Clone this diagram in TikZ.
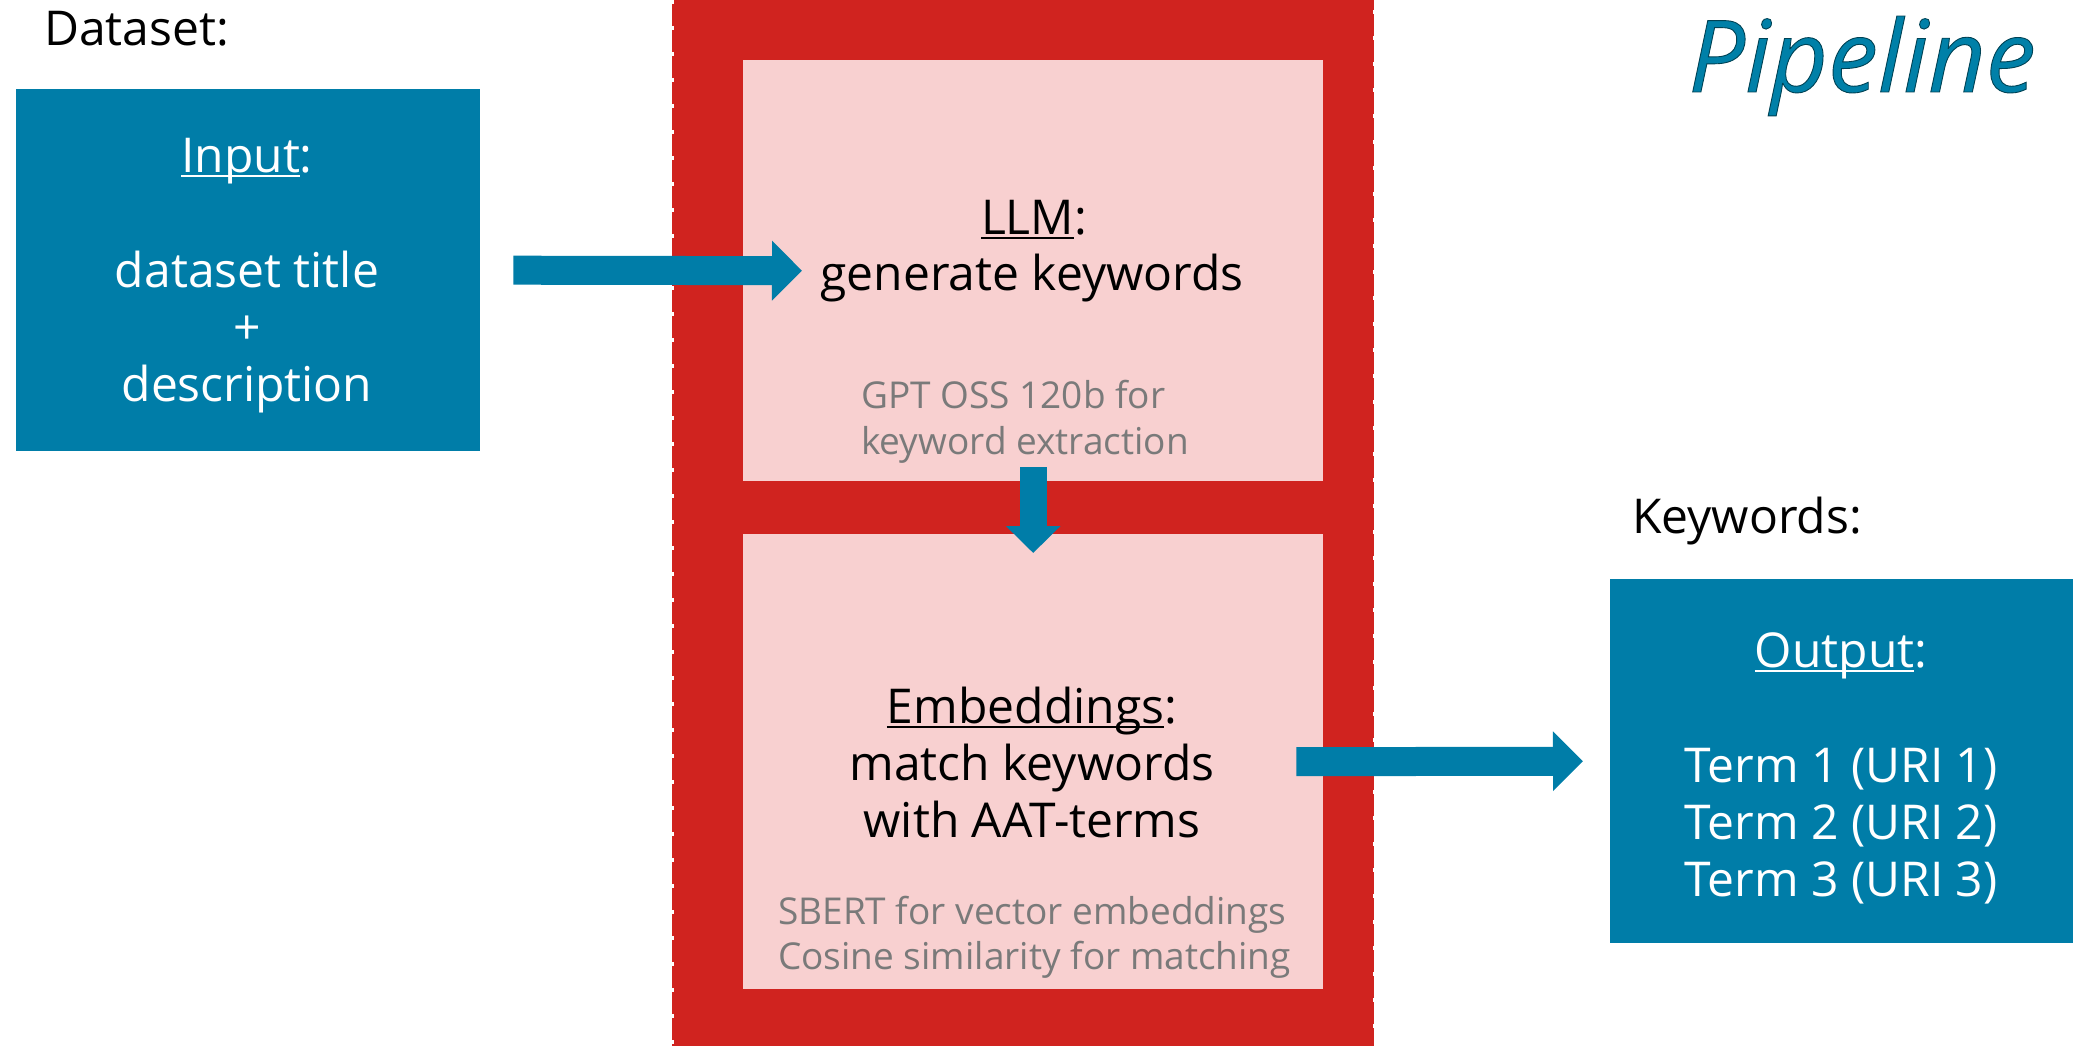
\documentclass[tikz,border=0pt]{standalone}
\usepackage{fontspec}
\setmainfont{Open Sans}
\usetikzlibrary{arrows.meta}
\definecolor{bandred}{HTML}{D0231F}
\definecolor{pinkbox}{HTML}{F8D0D0}
\definecolor{tealbox}{HTML}{007DA8}
\definecolor{graytxt}{HTML}{7A7A7A}
\definecolor{titleteal}{HTML}{0080A8}
\newcommand\myul[1]{\setbox0\hbox{#1}\rlap{\rule[-0.11em]{\wd0}{0.05em}}\box0}
\newcommand\outlinedtext[1]{\special{pdf:code q 2 Tr 0.9 w 0 0.26 0.33 RG}#1\special{pdf:code Q}}
\tikzset{
  tealrect/.style={fill=tealbox, draw=none, inner sep=0pt, anchor=north west},
  pinkrect/.style={fill=pinkbox, draw=none, inner sep=0pt, anchor=north west},
  bigtxt/.style={inner sep=0pt, anchor=base, font=\fontsize{48}{58}\selectfont},
  whitetxt/.style={bigtxt, text=white},
  smalltxt/.style={inner sep=0pt, anchor=base west, text=graytxt, font=\fontsize{37}{45}\selectfont},
  bigarrow/.style={draw=tealbox, line width=29pt, -{Triangle[length=30pt,width=58pt]}},
  downarrow/.style={draw=tealbox, line width=27pt, -{Triangle[length=27pt,width=53pt]}},
}
\begin{document}
\begin{tikzpicture}[x=1pt,y=-1pt]
\useasboundingbox (0,0) rectangle (2074,1046);
% red band
\fill[bandred] (672,-2) rectangle (1374,1048);
\draw[white, line width=3pt, dash pattern=on 4pt off 22pt] (672,0) -- (672,1046);
\draw[white, line width=3pt, dash pattern=on 4pt off 22pt] (1374,10) -- (1374,1046);
% boxes
\node[tealrect, minimum width=464pt, minimum height=362pt] (inp) at (16,89) {};
\node[tealrect, minimum width=463pt, minimum height=364pt] (out) at (1610,579) {};
\node[pinkrect, minimum width=580pt, minimum height=421pt] (llm) at (743,60) {};
\node[pinkrect, minimum width=580pt, minimum height=455pt] (emb) at (743,534) {};
% labels outside
\node[bigtxt, anchor=base west] (dslbl) at (44,46) {Dataset:};
\node[bigtxt, anchor=base west] (kwlbl) at (1632,533) {Keywords:};
\node[inner sep=0pt, anchor=base east, text=titleteal, font=\fontsize{100}{110}\selectfont\itshape] (title) at (2036,92) {\outlinedtext{Pipeline}};
% input text
\node[whitetxt] (in1) at (247,172) {\myul{Input}:};
\node[whitetxt] (in2) at (247,287) {dataset title};
\node[whitetxt] (in3) at (247,344) {+};
\node[whitetxt] (in4) at (247,401) {description};
% output text
\node[whitetxt] (o1) at (1841,667) {\myul{Output}:};
\node[whitetxt] (o2) at (1841,782) {Term 1 (URI 1)};
\node[whitetxt] (o3) at (1841,839) {Term 2 (URI 2)};
\node[whitetxt] (o4) at (1841,896) {Term 3 (URI 3)};
% LLM text
\node[bigtxt] (l1) at (1034,234) {\myul{LLM}:};
\node[bigtxt] (l2) at (1032,290) {generate keywords};
\node[smalltxt] (l3) at (861,408) {GPT OSS 120b for};
\node[smalltxt] (l4) at (861,454) {keyword extraction};
% Embeddings text
\node[bigtxt] (e1) at (1032,723) {\myul{Embeddings}:};
\node[bigtxt] (e2) at (1032,780) {match keywords};
\node[bigtxt] (e3) at (1032,837) {with AAT-terms};
\node[smalltxt] (e4) at (778,924) {SBERT for vector embeddings};
\node[smalltxt] (e5) at (778,969) {Cosine similarity for matching};
% arrows
\draw[bigarrow] ([xshift=33pt]inp.east) -- ([xshift=59pt]llm.west);
\draw[downarrow] ([yshift=14pt]llm.south) -- ([yshift=-19pt]emb.north);
\draw[bigarrow] ([xshift=-27pt]emb.east) -- ([xshift=-27pt]out.west);
\end{tikzpicture}
\end{document}
